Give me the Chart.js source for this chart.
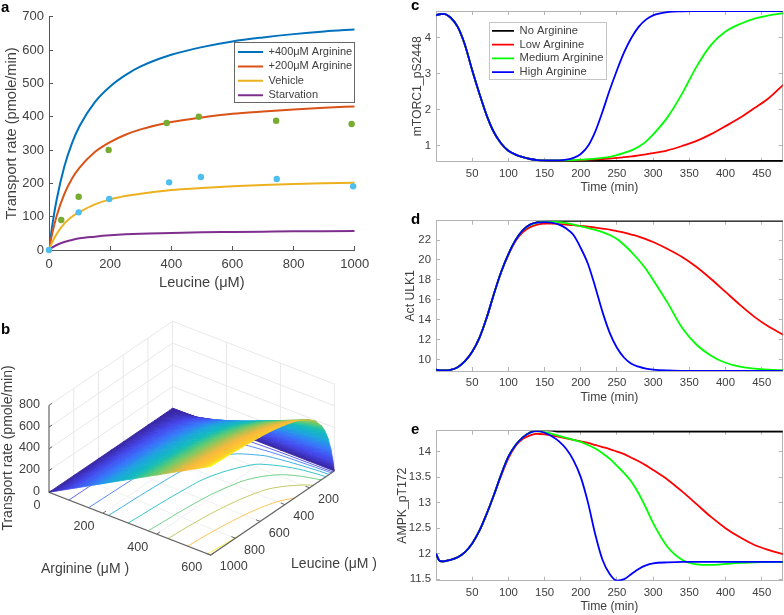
<!DOCTYPE html>
<html>
<head>
<meta charset="utf-8">
<script src="https://cdn.jsdelivr.net/npm/chart.js@4"></script>
<style>
  html, body { margin: 0; background: #fff; }
  canvas { position: absolute; filter: blur(0.3px); }
  .tag { position: absolute; font: bold 15px "Liberation Sans", sans-serif; color: #000; line-height: 15px; }
</style>
</head>
<body>
<canvas id="panelA" width="392" height="300" style="left:0;top:0"></canvas>
<canvas id="panelB" width="392" height="315" style="left:0;top:300px"></canvas>
<canvas id="panelC" width="394" height="208" style="left:390px;top:-10px"></canvas>
<canvas id="panelD" width="394" height="207" style="left:390px;top:200px"></canvas>
<canvas id="panelE" width="394" height="215" style="left:390px;top:400px"></canvas>
<div class="tag" style="left:1px;top:-1px">a</div>
<div class="tag" style="left:1px;top:321px">b</div>
<div class="tag" style="left:411px;top:-3px">c</div>
<div class="tag" style="left:411px;top:211px">d</div>
<div class="tag" style="left:411px;top:421px">e</div>
<script>
// panel a
const leuPoints = [0, 10, 25, 50, 75, 100, 150, 200, 250, 300, 400, 500, 600, 700, 800, 900, 1000];
const plus400 = [0, 69, 151, 250, 320, 372, 444, 491, 525, 551, 586, 609, 626, 638, 648, 656, 662];
const plus200 = [0, 47, 102, 168, 214, 247, 294, 324, 346, 362, 384, 398, 409, 416, 422, 427, 431];
const vehicle = [0, 22, 48, 79, 100, 114, 137, 152, 162, 169, 180, 186, 191, 195, 198, 200, 202];
const starvation = [0, 7, 15, 24, 30, 35, 40, 44, 47, 49, 51, 53, 54, 55, 56, 56.5, 57];
const greenDotsX = [40, 97, 195, 385, 490, 743, 990];
const greenDotsY = [90, 160, 300, 381, 400, 388, 378];
const blueDotsX = [0, 97, 197, 393, 497, 745, 995];
const blueDotsY = [0, 113, 153, 203, 219, 213, 191];
const aXTicks = [0, 200, 400, 600, 800, 1000];
const aYTicks = [0, 100, 200, 300, 400, 500, 600, 700];

// panel b
const arginine = [0, 100, 200, 300, 400, 500, 600];
const leucine = [0, 10, 25, 50, 75, 100, 150, 200, 300, 400, 500, 600, 800, 1000];
const rateArg0 = [0, 0, 0, 0, 0, 0, 0, 0, 0, 0, 0, 0, 0, 0];
const rateArg100 = [0, 16, 35, 56, 71, 82, 96, 105, 116, 122, 127, 130, 133, 136];
const rateArg200 = [0, 33, 70, 113, 142, 163, 191, 209, 232, 244, 253, 259, 267, 272];
const rateArg300 = [0, 49, 105, 169, 213, 245, 287, 314, 348, 367, 380, 389, 400, 408];
const rateArg400 = [0, 65, 139, 225, 284, 326, 383, 419, 463, 489, 506, 518, 533, 543];
const rateArg500 = [0, 82, 174, 282, 355, 408, 478, 523, 579, 611, 633, 648, 667, 679];
const rateArg600 = [0, 98, 209, 338, 426, 489, 574, 628, 695, 733, 759, 777, 800, 815];
const rates = [rateArg0, rateArg100, rateArg200, rateArg300, rateArg400, rateArg500, rateArg600];
const contourLevels = [100, 200, 300, 400, 500, 600, 700, 800];
const contourLeu = [
  [1000, 600, 400, 200, 100, 50, 25, 11],
  [1000, 600, 400, 200, 100, 50, 25, 23],
  [1000, 600, 400, 200, 100, 75, 50, 41],
  [1000, 600, 400, 200, 150, 100, 75, 68],
  [1000, 600, 400, 300, 200, 150, 105],
  [1000, 800, 600, 400, 300, 200, 170],
  [1000, 800, 600, 500, 400, 320],
  [1000, 900, 760]
];
const contourArg = [
  [74, 77, 82, 95, 123, 177, 286, 600],
  [147, 154, 164, 191, 245, 355, 573, 600],
  [221, 232, 245, 287, 368, 422, 532, 600],
  [294, 309, 327, 382, 418, 490, 562, 600],
  [368, 386, 409, 431, 477, 523, 600],
  [442, 450, 464, 491, 518, 573, 600],
  [515, 524, 540, 553, 572, 600],
  [589, 594, 600]
];
const bArgTicks = [0, 200, 400, 600];
const bLeuTicks = [200, 400, 600, 800, 1000];
const bZTicks = [0, 200, 400, 600, 800];

// panels c, d, e
const time = [0, 5, 10, 20, 30, 40, 50, 60, 70, 80, 90, 100, 110, 120, 130, 140, 150, 160, 170, 180, 190, 200, 210, 220, 230, 240, 250, 260, 270, 280, 290, 300, 320, 340, 360, 380, 400, 420, 440, 460, 480];
const timeTicks = [50, 100, 150, 200, 250, 300, 350, 400, 450];

const mtorNone = [4.62, 4.65, 4.66, 4.56, 4.30, 3.80, 3.10, 2.45, 1.85, 1.38, 1.07, .87, .76, .69, .64, .61, .59, .585, .585, .585, .585, .585, .585, .585, .585, .585, .585, .585, .585, .585, .585, .585, .585, .585, .585, .585, .585, .585, .585, .585, .585];
const mtorLow = [4.62, 4.65, 4.66, 4.56, 4.30, 3.80, 3.10, 2.45, 1.85, 1.38, 1.07, .87, .76, .69, .64, .61, .60, .60, .60, .60, .60, .61, .62, .63, .64, .65, .67, .69, .71, .74, .77, .80, .88, 1.0, 1.14, 1.33, 1.55, 1.78, 2.05, 2.33, 2.7];
const mtorMedium = [4.62, 4.65, 4.66, 4.56, 4.30, 3.80, 3.10, 2.45, 1.85, 1.38, 1.07, .87, .76, .69, .64, .61, .60, .60, .60, .60, .61, .62, .63, .65, .67, .70, .75, .81, .88, .98, 1.12, 1.32, 1.8, 2.45, 3.2, 3.8, 4.17, 4.38, 4.53, 4.62, 4.68];
const mtorHigh = [4.62, 4.65, 4.66, 4.56, 4.30, 3.80, 3.10, 2.45, 1.85, 1.38, 1.07, .87, .76, .69, .64, .61, .60, .60, .60, .62, .67, .78, 1.0, 1.4, 1.95, 2.55, 3.1, 3.6, 4.0, 4.3, 4.5, 4.62, 4.71, 4.73, 4.735, 4.74, 4.74, 4.74, 4.74, 4.74, 4.74];

const ulkNone = [9.0, 8.95, 8.92, 8.98, 9.25, 9.85, 10.8, 12.2, 14.2, 16.6, 18.8, 20.6, 22.0, 23.0, 23.55, 23.8, 23.88, 23.92, 23.93, 23.93, 23.93, 23.93, 23.93, 23.93, 23.93, 23.93, 23.93, 23.93, 23.93, 23.93, 23.93, 23.93, 23.93, 23.93, 23.93, 23.93, 23.93, 23.93, 23.93, 23.93, 23.93];
const ulkLow = [9.0, 8.95, 8.92, 8.98, 9.25, 9.85, 10.8, 12.2, 14.2, 16.6, 18.8, 20.5, 21.9, 22.8, 23.3, 23.55, 23.65, 23.65, 23.6, 23.55, 23.5, 23.42, 23.35, 23.25, 23.15, 23.05, 22.9, 22.75, 22.55, 22.35, 22.1, 21.8, 21.1, 20.3, 19.3, 18.1, 16.8, 15.5, 14.3, 13.3, 12.5];
const ulkMedium = [9.0, 8.95, 8.92, 8.98, 9.25, 9.85, 10.8, 12.2, 14.2, 16.6, 18.8, 20.6, 22.0, 23.0, 23.5, 23.75, 23.85, 23.85, 23.8, 23.7, 23.55, 23.38, 23.2, 23.02, 22.8, 22.5, 22.1, 21.5, 20.8, 20.0, 19.1, 18.0, 15.7, 13.2, 11.5, 10.4, 9.7, 9.3, 9.1, 9.0, 8.95];
const ulkHigh = [9.0, 8.95, 8.92, 8.98, 9.25, 9.85, 10.8, 12.2, 14.2, 16.6, 18.8, 20.6, 22.0, 23.0, 23.55, 23.75, 23.8, 23.75, 23.55, 23.15, 22.5, 21.2, 19.6, 17.3, 14.8, 12.7, 11.2, 10.2, 9.6, 9.3, 9.1, 9.0, 8.92, 8.89, 8.88, 8.88, 8.88, 8.88, 8.88, 8.88, 8.88];

const ampkNone = [12.0, 11.86, 11.85, 11.88, 11.93, 12.03, 12.2, 12.45, 12.78, 13.15, 13.55, 13.9, 14.13, 14.28, 14.38, 14.42, 14.42, 14.41, 14.39, 14.39, 14.39, 14.39, 14.39, 14.39, 14.39, 14.39, 14.39, 14.39, 14.39, 14.39, 14.39, 14.39, 14.39, 14.39, 14.39, 14.39, 14.39, 14.39, 14.39, 14.39, 14.39];
const ampkLow = [12.0, 11.86, 11.85, 11.88, 11.93, 12.03, 12.2, 12.45, 12.78, 13.15, 13.53, 13.87, 14.11, 14.25, 14.32, 14.35, 14.34, 14.32, 14.29, 14.26, 14.23, 14.2, 14.17, 14.13, 14.09, 14.05, 14.0, 13.95, 13.88, 13.81, 13.73, 13.64, 13.45, 13.22, 12.97, 12.72, 12.5, 12.32, 12.17, 12.07, 11.99];
const ampkMedium = [12.0, 11.86, 11.85, 11.88, 11.93, 12.03, 12.2, 12.45, 12.78, 13.15, 13.55, 13.9, 14.13, 14.28, 14.37, 14.4, 14.38, 14.35, 14.31, 14.27, 14.23, 14.19, 14.13, 14.06, 13.97, 13.86, 13.72, 13.58, 13.41, 13.18, 12.9, 12.6, 12.13, 11.88, 11.79, 11.78, 11.8, 11.82, 11.83, 11.84, 11.84];
const ampkHigh = [12.0, 11.86, 11.85, 11.88, 11.93, 12.03, 12.2, 12.45, 12.78, 13.15, 13.55, 13.9, 14.13, 14.28, 14.37, 14.4, 14.37, 14.3, 14.2, 14.05, 13.83, 13.5, 13.0, 12.38, 11.88, 11.6, 11.47, 11.5, 11.6, 11.7, 11.77, 11.81, 11.83, 11.84, 11.84, 11.84, 11.84, 11.84, 11.84, 11.84, 11.84];

const font = '"Liberation Sans", sans-serif';
const textColor = '#404040';
Chart.defaults.font.family = font;
Chart.defaults.color = textColor;
Chart.defaults.animation = false;

// zip two arrays into {x,y} points
const pts = (xs, ys) => xs.map((x, i) => ({ x: x, y: ys[i] }));

// moves the legend into the plot and draws the box round it
const legendBox = {
  id: 'legendBox',
  beforeDraw(chart, args, o) {
    if (!o.w) return;
    const l = chart.legend, c = chart.ctx;
    l.left = o.lx; l.top = o.ly; l.right = o.x + o.w; l.bottom = chart.height;
    c.save();
    c.fillStyle = '#fff';
    c.strokeStyle = o.color;
    c.lineWidth = 1;
    c.fillRect(o.x, o.y, o.w, o.h);
    c.strokeRect(o.x, o.y, o.w, o.h);
    c.restore();
  }
};
Chart.register(legendBox);

function tickScale(min, max, values, position, size, grid, tickFont, pad, title) {
  const horizontal = position === 'top' || position === 'bottom';
  return {
    type: 'linear', position: position, min: min, max: max,
    afterBuildTicks(s) { s.ticks = values.map(v => ({ value: v })); },
    afterFit(s) { if (horizontal) s.height = size; else s.width = size; },
    border: { color: grid, width: 1 },
    grid: { drawOnChartArea: false, color: grid, tickLength: -4 },
    ticks: {
      display: !!tickFont, font: tickFont || {}, padding: pad || 0, color: textColor,
      autoSkip: false, maxRotation: 0,
      callback: v => String(v)
    },
    title: title || { display: false }
  };
}

// ---- panel a
new Chart(document.getElementById('panelA'), {
  type: 'line',
  data: {
    datasets: [
      { label: 'dotsB', data: pts(blueDotsX, blueDotsY), showLine: false, pointRadius: 3.2, pointBackgroundColor: '#4dbeee', pointBorderWidth: 0, clip: false },
      { label: 'dotsG', data: pts(greenDotsX, greenDotsY), showLine: false, pointRadius: 3.2, pointBackgroundColor: '#77ac30', pointBorderWidth: 0, clip: false },
      { label: 'Starvation', data: pts(leuPoints, starvation), borderColor: '#7e2f8e' },
      { label: 'Vehicle', data: pts(leuPoints, vehicle), borderColor: '#edb120' },
      { label: '+200\u03bcM Arginine', data: pts(leuPoints, plus200), borderColor: '#d95319' },
      { label: '+400\u03bcM Arginine', data: pts(leuPoints, plus400), borderColor: '#0072bd' }
    ].map(d => Object.assign({ borderWidth: 2, pointRadius: 0, cubicInterpolationMode: 'monotone' }, d))
  },
  options: {
    responsive: false,
    layout: { padding: { left: 0, top: 16.7, right: 37.3, bottom: 0 } },
    scales: {
      x: tickScale(0, 1000, aXTicks, 'bottom', 50, '#555', { size: 13 }, 11, { display: true, text: 'Leucine (\u03bcM)', font: { size: 14.6 }, padding: 8, color: textColor }),
      y: tickScale(0, 700, aYTicks, 'left', 49, '#555', { size: 13 }, 9, { display: true, text: 'Transport rate (pmole/min)', font: { size: 14.6 }, padding: 3.2, color: textColor })
    },
    plugins: {
      legend: {
        position: 'chartArea', align: 'start', reverse: true,
        labels: {
          usePointStyle: true, pointStyle: 'line', pointStyleWidth: 25, font: { size: 11 }, padding: 3.4, color: textColor,
          filter: item => !item.text.startsWith('dots')
        }
      },
      legendBox: { x: 234.5, y: 42.5, w: 120, h: 60, lx: 234.6, ly: 43.1, color: '#666' }
    }
  }
});

// ---- panel b
// oblique view of the box: page pixels for an (arginine, leucine, rate) triple
const project = (a, l, z) => ({
  x: 49 + a / 600 * 161.7 + (1000 - l) / 1000 * 123.6,
  y: 492.3 + a / 600 * 62.7 - (1000 - l) / 1000 * 84 - z * 0.1087
});
const gap = { x: NaN, y: NaN };
const parulaStops = [[0, 56, 36, 160], [.12, 68, 70, 235], [.25, 56, 118, 251], [.37, 28, 165, 222], [.5, 18, 189, 185], [.62, 95, 203, 112], [.74, 190, 192, 75], [.83, 251, 184, 60], [.95, 252, 205, 40], [1, 249, 251, 21]];
function parula(z, alpha) {
  const t = Math.min(1, Math.max(0, z / 815));
  let i = 0;
  while (i < parulaStops.length - 2 && t > parulaStops[i + 1][0]) i++;
  const p = parulaStops[i], q = parulaStops[i + 1], f = (t - p[0]) / (q[0] - p[0]);
  const c = [1, 2, 3].map(k => Math.round(p[k] + (q[k] - p[k]) * f));
  return 'rgba(' + c.join(',') + ',' + (alpha || 1) + ')';
}
// each triangle of the surface is flat, so its height colours run along one straight screen direction
function triPaint(ctx) {
  const d = ctx.dataset, sx = ctx.chart.scales.x, sy = ctx.chart.scales.y;
  const z = d.heights;
  const zMin = Math.min(z[0], z[1], z[2]), zMax = Math.max(z[0], z[1], z[2]);
  const flat = parula((zMin + zMax) / 2);
  if (!sx || !sy) return flat;
  const p = d.data.slice(0, 3).map(q => [sx.getPixelForValue(q.x), sy.getPixelForValue(q.y)]);
  const ux = p[1][0] - p[0][0], uy = p[1][1] - p[0][1], vx = p[2][0] - p[0][0], vy = p[2][1] - p[0][1];
  const det = ux * vy - uy * vx, zu = z[1] - z[0], zv = z[2] - z[0];
  if (!Number.isFinite(det) || Math.abs(det) < 0.05 || zMax - zMin < 1) return flat;
  const gx = (zu * vy - zv * uy) / det, gy = (zv * ux - zu * vx) / det, g2 = gx * gx + gy * gy;
  const a = p[z.indexOf(zMin)], span = (zMax - zMin) / g2;
  const grad = ctx.chart.ctx.createLinearGradient(a[0], a[1], a[0] + gx * span, a[1] + gy * span);
  for (let k = 0; k <= 6; k++) grad.addColorStop(k / 6, parula(zMin + (zMax - zMin) * k / 6));
  return grad;
}

const backLines = [], floorLines = [], axisLines = [], axisTicks = [];
bZTicks.slice(1).forEach(z => {
  backLines.push(project(0, 1000, z), project(0, 0, z), project(600, 0, z), gap);
});
bLeuTicks.slice(0, -1).concat([0]).forEach(l => {
  backLines.push(project(0, l, 0), project(0, l, 800), gap);
  floorLines.push(project(0, l, 0), project(600, l, 0), gap);
});
bArgTicks.slice(1).forEach(a => {
  backLines.push(project(a, 0, 0), project(a, 0, 800), gap);
  floorLines.push(project(a, 0, 0), project(a, 1000, 0), gap);
});
axisLines.push(project(0, 1000, 800), project(0, 1000, 0), project(600, 1000, 0), project(600, 0, 0));
bZTicks.forEach(z => axisTicks.push(project(0, 1000, z), project(0, 975, z), gap));
bArgTicks.forEach(a => axisTicks.push(project(a, 1000, 0), project(a, 975, 0), gap));
bLeuTicks.forEach(l => axisTicks.push(project(600, l, 0), project(585, l, 0), gap));

const layers = [
  { data: backLines, borderColor: '#e8e8e8', borderWidth: 1 },
  { data: floorLines, borderColor: '#f0f0f0', borderWidth: 1 }
];
contourLevels.forEach((level, i) => {
  layers.push({
    data: contourLeu[i].map((l, j) => project(contourArg[i][j], l, 0)),
    borderColor: parula(level, 0.85), borderWidth: 1, tension: 0.4
  });
});
layers.push({ data: axisLines, borderColor: '#666', borderWidth: 1.2 });
layers.push({ data: axisTicks, borderColor: '#666', borderWidth: 1 });
// back corner first, front corner last, so nearer cells paint over farther ones
for (let l = 0; l < leucine.length - 1; l++) {
  for (let a = 0; a < arginine.length - 1; a++) {
    const corner = (i, j) => ({ p: project(arginine[i], leucine[j], rates[i][j]), z: rates[i][j] });
    const c00 = corner(a, l), c10 = corner(a + 1, l), c01 = corner(a, l + 1), c11 = corner(a + 1, l + 1);
    [[c00, c10, c11], [c00, c11, c01]].forEach(t => {
      layers.push({
        data: [t[0].p, t[1].p, t[2].p, t[0].p],
        heights: t.map(c => c.z),
        fill: 'shape', backgroundColor: triPaint, borderColor: triPaint, borderWidth: 0.8
      });
    });
  }
}

const surfaceText = {
  id: 'surfaceText',
  afterDraw(chart) {
    const c = chart.ctx, sx = chart.scales.x, sy = chart.scales.y;
    const put = (text, x, y, size, align) => {
      c.font = size + 'px ' + font;
      c.textAlign = align || 'center';
      c.textBaseline = 'middle';
      c.fillText(text, sx.getPixelForValue(x), sy.getPixelForValue(y));
    };
    c.save();
    c.fillStyle = textColor;
    bZTicks.forEach(z => { const p = project(0, 1000, z); put(String(z), p.x - 9, p.y - 1, 12.6, 'right'); });
    bArgTicks.forEach(a => { const p = project(a, 1000, 0); put(String(a), p.x - (a ? 19 : 12), p.y + 13, 12.6); });
    bLeuTicks.forEach(l => { const p = project(600, l, 0); put(String(l), p.x + (l === 1000 ? 23 : 19), p.y + 12, 12.6); });
    put('Arginine (\u03bcM )', 85, 569.5, 14);
    put('Leucine (\u03bcM )', 334, 564, 14);
    c.translate(sx.getPixelForValue(8), sy.getPixelForValue(448));
    c.rotate(-Math.PI / 2);
    c.font = '14px ' + font;
    c.textAlign = 'center';
    c.textBaseline = 'middle';
    c.fillText('Transport rate (pmole/min)', 0, 0);
    c.restore();
  }
};

new Chart(document.getElementById('panelB'), {
  type: 'line',
  data: { datasets: layers.reverse().map(d => Object.assign({ pointRadius: 0, fill: false }, d)) },
  options: {
    responsive: false,
    scales: {
      x: { type: 'linear', min: 0, max: 392, display: false },
      y: { type: 'linear', min: 300, max: 615, reverse: true, display: false }
    },
    plugins: { legend: { display: false } }
  },
  plugins: [surfaceText]
});

// ---- panels c, d, e
function timePanel(id, top, bottom, canvasTop, canvasH, ymin, ymax, yticks, ytitle, ytitlePad, series, box) {
  const grey = '#b4b4b4';
  const names = ['No Arginine', 'Low Arginine', 'Medium Arginine', 'High Arginine'];
  const colors = ['#000000', '#ff0000', '#00ff00', '#0000ff'];
  new Chart(document.getElementById(id), {
    type: 'line',
    data: {
      datasets: series.map((s, i) => ({
        label: names[i], data: pts(time, s), borderColor: colors[i], borderWidth: 1.8,
        pointRadius: 0, cubicInterpolationMode: 'monotone', order: 4 - i
      }))
    },
    options: {
      responsive: false,
      layout: { padding: { left: 0, top: top - canvasTop, right: 1.3, bottom: 0 } },
      scales: {
        x: tickScale(0, 479, timeTicks, 'bottom', canvasTop + canvasH - bottom, grey, { size: 11.4 }, 9, { display: true, text: 'Time (min)', font: { size: 12.2 }, padding: canvasTop + canvasH - bottom - 33.5, color: textColor }),
        y: tickScale(ymin, ymax, yticks, 'left', 46, grey, { size: 11.4 }, 9, { display: true, text: ytitle, font: { size: 12.2 }, padding: ytitlePad, color: textColor }),
        x2: tickScale(0, 479, timeTicks, 'top', 0, grey),
        y2: tickScale(ymin, ymax, yticks, 'right', 0, grey)
      },
      plugins: {
        legend: box ? {
          position: 'chartArea', align: 'start', reverse: true,
          labels: { usePointStyle: true, pointStyle: 'line', pointStyleWidth: 22, font: { size: 11.2 }, padding: 2.6, color: textColor }
        } : { display: false },
        legendBox: box || {}
      }
    }
  });
}

timePanel('panelC', 11, 161.7, -10, 208, 0.565, 4.74, [1, 2, 3, 4], 'mTORC1_pS2448', 20,
  [mtorNone, mtorLow, mtorMedium, mtorHigh], { x: 99.5, y: 32.5, w: 117, h: 57, lx: 99.4, ly: 32.6, color: '#c4c4c4' });
timePanel('panelD', 220.7, 371, 200, 207, 8.87, 23.94, [10, 12, 14, 16, 18, 20, 22], 'Act ULK1', 13.7,
  [ulkNone, ulkLow, ulkMedium, ulkHigh]);
timePanel('panelE', 430.7, 580.7, 400, 215, 11.47, 14.41, [11.5, 12, 12.5, 13, 13.5, 14], 'AMPK_pT172', 5.4,
  [ampkNone, ampkLow, ampkMedium, ampkHigh]);
</script>
</body>
</html>
